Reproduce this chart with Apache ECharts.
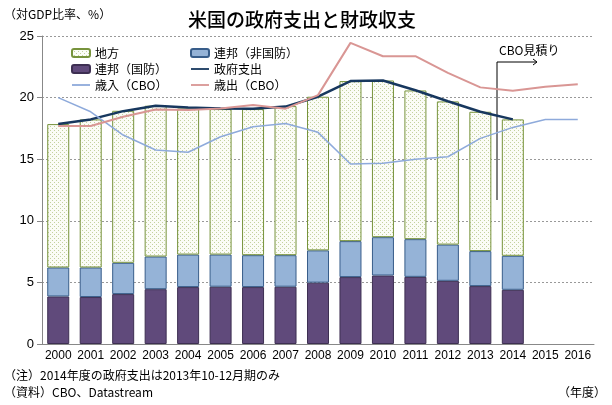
<!DOCTYPE html>
<html>
<head>
<meta charset="utf-8">
<script src="https://cdn.jsdelivr.net/npm/echarts@6/dist/echarts.min.js"></script>
<style>
  html, body { margin: 0; padding: 0; background: #fff; }
  #main { width: 612px; height: 405px; }
</style>
</head>
<body>
<div id="main"></div>
<script>
// data (対GDP比率、%)
var years = ['2000','2001','2002','2003','2004','2005','2006','2007','2008','2009','2010','2011','2012','2013','2014','2015','2016'];
var defense =    [3.86, 3.81, 4.05, 4.45, 4.62, 4.65, 4.62, 4.65, 4.98, 5.43, 5.56, 5.45, 5.13, 4.70, 4.40];
var nonDefense = [2.35, 2.40, 2.54, 2.65, 2.64, 2.61, 2.59, 2.56, 2.62, 2.92, 3.11, 3.06, 2.94, 2.84, 2.76];
var local =      [11.64, 12.02, 12.34, 12.24, 11.86, 11.81, 11.86, 12.10, 12.47, 12.99, 12.72, 12.07, 11.62, 11.31, 11.07];
var govSpending = [17.85, 18.23, 18.90, 19.34, 19.20, 19.12, 19.10, 19.27, 20.07, 21.34, 21.39, 20.60, 19.70, 18.85, 18.23];
var revenueCBO = [20.0, 18.85, 16.96, 15.75, 15.56, 16.82, 17.64, 17.90, 17.18, 14.61, 14.67, 15.0, 15.2, 16.69, 17.58, 18.23, 18.23];
var outlaysCBO = [17.69, 17.69, 18.45, 19.04, 19.0, 19.12, 19.39, 19.1, 20.2, 24.44, 23.36, 23.36, 22.01, 20.83, 20.55, 20.88, 21.09];
var yTicks = [0, 5, 10, 15, 20, 25];

var FONT = '"Noto Sans CJK JP", "Noto Sans", sans-serif';
var NUMFONT = '"Liberation Sans Narrow", "Liberation Sans", sans-serif';
var LINE_ICON = 'path://M0,0H20V2H0Z';

// 地方 の点描パターン
function dotPattern() {
    var c = document.createElement('canvas');
    c.width = 4; c.height = 4;
    var ctx = c.getContext('2d');
    ctx.fillStyle = '#fbfcf6';
    ctx.fillRect(0, 0, 4, 4);
    ctx.fillStyle = '#c3d19e';
    ctx.fillRect(0, 0, 1, 1);
    ctx.fillRect(2, 2, 1, 1);
    return { image: c, repeat: 'repeat' };
}

var chart = echarts.init(document.getElementById('main'));

var legendText = { fontSize: 12, color: '#000', fontFamily: FONT };

var option = {
    animation: false,
    textStyle: { fontFamily: FONT },
    title: {
        text: '米国の政府支出と財政収支',
        left: 183,
        top: 5,
        textStyle: { fontSize: 19, fontWeight: 500, color: '#000', fontFamily: FONT }
    },
    legend: [{
        orient: 'vertical',
        left: 66, top: 42,
        itemWidth: 18, itemHeight: 8, itemGap: 4,
        textStyle: legendText,
        data: ['地方', '連邦（国防）', { name: '歳入（CBO）', icon: LINE_ICON }]
    }, {
        orient: 'vertical',
        left: 185, top: 42,
        itemWidth: 18, itemHeight: 8, itemGap: 4,
        textStyle: legendText,
        data: ['連邦（非国防）', { name: '政府支出', icon: LINE_ICON }, { name: '歳出（CBO）', icon: LINE_ICON }]
    }],
    grid: { left: 42, right: 18, top: 36, bottom: 61 },
    xAxis: {
        type: 'category',
        data: years,
        axisLine: { lineStyle: { color: '#888' } },
        axisTick: { lineStyle: { color: '#888' }, length: 5 },
        axisLabel: { color: '#000', fontSize: 12, margin: 6, interval: 0, fontFamily: NUMFONT }
    },
    yAxis: {
        type: 'value',
        min: 0, max: 25, interval: 5,
        axisLine: { show: true, lineStyle: { color: '#888' } },
        axisTick: { show: true, lineStyle: { color: '#888' }, length: 5 },
        axisLabel: {
            color: '#000', fontSize: 13, margin: 8, fontFamily: '"Liberation Sans", sans-serif',
            formatter: function(v) { return yTicks.indexOf(v) >= 0 ? String(v) : ''; }
        },
        splitLine: { lineStyle: { color: '#999', type: [2, 2] } }
    },
    series: [{
        name: '連邦（国防）', type: 'bar', stack: 'g', barWidth: 22,
        itemStyle: { color: '#604a7b', borderColor: '#3d2f52', borderWidth: 1 },
        data: defense
    }, {
        name: '連邦（非国防）', type: 'bar', stack: 'g', barWidth: 22,
        itemStyle: { color: '#95b3d7', borderColor: '#385d8a', borderWidth: 1 },
        data: nonDefense
    }, {
        name: '地方', type: 'bar', stack: 'g', barWidth: 22,
        itemStyle: { color: dotPattern(), borderColor: '#77933c', borderWidth: 1 },
        data: local
    }, {
        name: '政府支出', type: 'line', symbol: 'none',
        lineStyle: { color: '#17375e', width: 2.5 },
        itemStyle: { color: '#17375e' },
        data: govSpending
    }, {
        name: '歳入（CBO）', type: 'line', symbol: 'none',
        lineStyle: { color: '#8eaadb', width: 1.5 },
        itemStyle: { color: '#8eaadb' },
        data: revenueCBO
    }, {
        name: '歳出（CBO）', type: 'line', symbol: 'none',
        lineStyle: { color: '#d99694', width: 2 },
        itemStyle: { color: '#d99694' },
        data: outlaysCBO
    }],
    graphic: [{
        type: 'text', left: 4, top: 8,
        style: { text: '（対GDP比率、%）', fill: '#000', font: '12px ' + FONT }
    }, {
        type: 'text', left: 499, top: 44,
        style: { text: 'CBO見積り', fill: '#000', font: '12px ' + FONT }
    }, {
        type: 'polyline',
        shape: { points: [[497, 200], [497, 62], [537, 62]] },
        style: { stroke: '#000', lineWidth: 1, fill: null }
    }, {
        type: 'polyline',
        shape: { points: [[533, 59], [537, 62], [533, 65]] },
        style: { stroke: '#000', lineWidth: 1, fill: null }
    }, {
        type: 'text', left: 4, top: 369,
        style: { text: '（注）2014年度の政府支出は2013年10-12月期のみ', fill: '#000', font: '12px ' + FONT }
    }, {
        type: 'text', left: 4, top: 386,
        style: { text: '（資料）CBO、Datastream', fill: '#000', font: '12px ' + FONT }
    }, {
        type: 'text', right: 6, top: 386,
        style: { text: '（年度）', fill: '#000', font: '12px ' + FONT }
    }]
};

chart.setOption(option);
</script>
</body>
</html>
